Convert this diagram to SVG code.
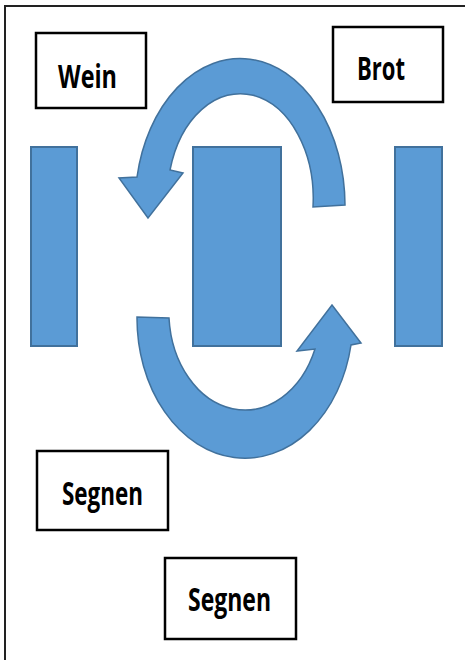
<svg xmlns="http://www.w3.org/2000/svg" width="465" height="660" viewBox="0 0 465 660">
<style>
.frame{fill:none;stroke:#222;stroke-width:2}
.box{fill:#fff;stroke:#000;stroke-width:2.5}
.bar{fill:#5B9BD5;stroke:#41719C;stroke-width:2}
.arrow{fill:#5B9BD5;stroke:#41719C;stroke-width:1.5;stroke-linejoin:miter}
.lbl{font-family:"Open Sans","Liberation Sans",sans-serif;font-weight:700;font-size:32px;fill:#000}
</style>
<rect class="frame" x="5" y="6" width="480" height="680"/>
<g id="bar-left"><rect class="bar" x="31" y="147" width="46" height="199"/></g>
<g id="bar-middle"><rect class="bar" x="193" y="147" width="88" height="199"/></g>
<g id="bar-right"><rect class="bar" x="395" y="147" width="47" height="199"/></g>
<g id="connectors">
<path class="arrow" d="M345,205 A105 147 0 0 0 137,177 L119,178 L148,218 L183,173 L170,170 A73 105 0 0 1 313,207 Z"/>
<path class="arrow" d="M137,317 A108 140 0 0 0 351,345 L361,343 L332,305 L297,351 L315,349 A76 99 0 0 1 169,318 Z"/>
</g>
<g id="wein"><rect class="box" x="36" y="33" width="110" height="75"/><text class="lbl" x="58" y="88" textLength="59" lengthAdjust="spacingAndGlyphs">Wein</text></g>
<g id="brot"><rect class="box" x="333" y="27" width="110" height="75"/><text class="lbl" x="357" y="80" textLength="48" lengthAdjust="spacingAndGlyphs">Brot</text></g>
<g id="segnen1"><rect class="box" x="37" y="451" width="131" height="79"/><text class="lbl" x="62" y="505" textLength="81" lengthAdjust="spacingAndGlyphs">Segnen</text></g>
<g id="segnen2"><rect class="box" x="165" y="558" width="131" height="81"/><text class="lbl" x="188" y="611" textLength="83" lengthAdjust="spacingAndGlyphs">Segnen</text></g>
</svg>
